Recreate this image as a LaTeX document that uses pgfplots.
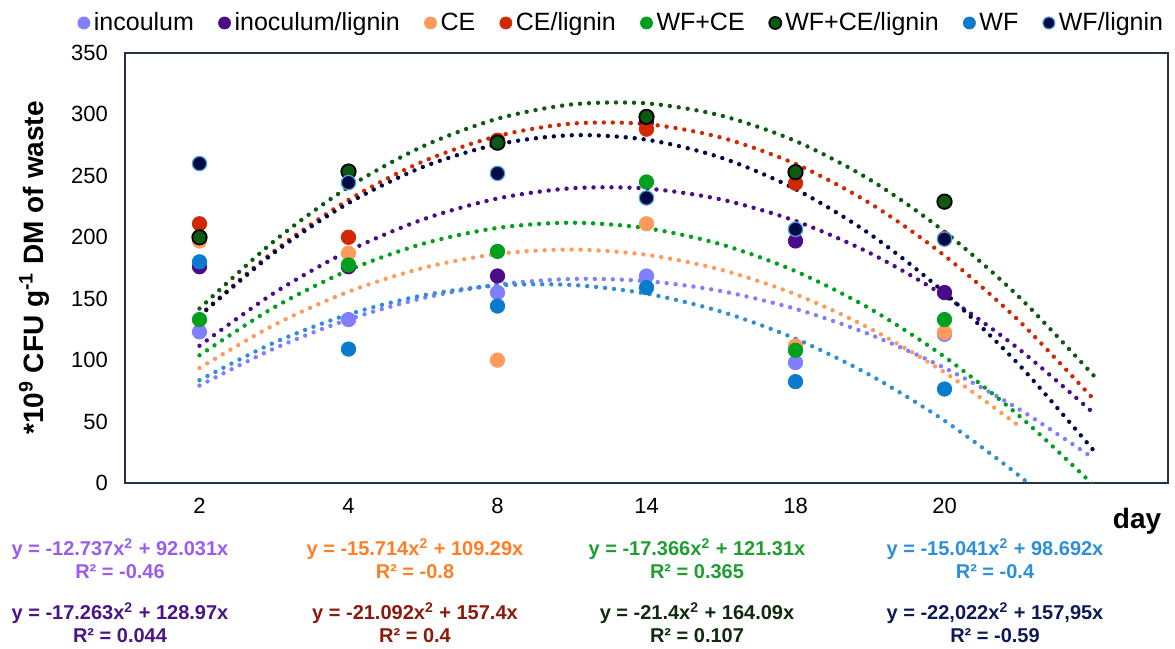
\documentclass[border=0pt]{standalone}
\usepackage{fontspec}
\setmainfont{Liberation Sans}
\usepackage{pgfplots}
\pgfplotsset{compat=1.18}
\definecolor{cInc}{HTML}{7F7FFF}
\definecolor{cIncL}{HTML}{4B0C8A}
\definecolor{cCE}{HTML}{FF9A5C}
\definecolor{cCEL}{HTML}{D02800}
\definecolor{cWFCE}{HTML}{00A01E}
\definecolor{cWFCEL}{HTML}{0B5A10}
\definecolor{cWF}{HTML}{0A7ACD}
\definecolor{cWFL}{HTML}{000B45}
\definecolor{cAxis}{HTML}{23324A}
\definecolor{tInc}{HTML}{9A5CF0}
\definecolor{tIncL}{HTML}{4A1486}
\definecolor{tCE}{HTML}{FF7F27}
\definecolor{tCEL}{HTML}{8B1A0A}
\definecolor{tWFCE}{HTML}{1E9E2E}
\definecolor{tWFCEL}{HTML}{0F2A0F}
\definecolor{tWF}{HTML}{2E8FD8}
\definecolor{tWFL}{HTML}{0D1A55}
\pgfplotsset{
  mk/.style={only marks, mark=*, mark size=3.6pt,
    legend image code/.code={\draw[##1,mark size=3pt] plot coordinates {(0pt,0pt)};}},
  tr/.style={no marks, smooth, forget plot, line width=2.2pt, line cap=round,
    dash pattern=on 0pt off 4.5pt},
}
\begin{document}
\begin{tikzpicture}
\begin{axis}[name=ax, scale only axis, width=521.5pt, height=215pt,
  xmin=0.5, xmax=7.5, ymin=0, ymax=350,
  xtick={1,2,3,4,5,6}, xticklabels={2,4,8,14,18,20},
  ytick={0,50,100,150,200,250,300,350},
  major tick length=0pt,
  axis line style={draw=cAxis, line width=0.9pt},
  tick label style={font=\fontsize{11}{13}\selectfont, /pgf/number format/assume math mode=true},
  xticklabel style={yshift=-4pt},
  yticklabel style={xshift=-5pt},
  ylabel={*10\textsuperscript{9} CFU g\textsuperscript{-1} DM of waste},
  ylabel style={font=\bfseries\fontsize{14}{16}\selectfont, at={(axis description cs:-0.0873,0.5)}, anchor=center},
  legend columns=8,
  legend style={at={(0.5,1)}, anchor=center, xshift=-12pt, yshift=15pt, draw=none, fill=none,
    font=\fontsize{12.5}{14}\selectfont, inner sep=0pt,
    /tikz/every even column/.append style={column sep=10.3pt}},
]
% trendlines
\addplot[tr, color=cInc] coordinates {(1,79.294) (1.5,109.389) (2,133.114) (2.5,150.472) (3,161.46) (3.5,166.081) (4,164.332) (4.5,156.216) (5,141.73) (5.5,120.877) (6,93.654) (6.5,60.064) (7,20.104)};
\addplot[tr, color=cIncL] coordinates {(1,111.707) (1.5,154.613) (2,188.888) (2.5,214.531) (3,231.543) (3.5,239.923) (4,239.672) (4.5,230.789) (5,213.275) (5.5,187.129) (6,152.352) (6.5,108.943) (7,56.903)};
\addplot[tr, color=cCE] coordinates {(1,93.576) (1.5,128.578) (2,155.724) (2.5,175.012) (3,186.444) (3.5,190.018) (4,185.736) (4.5,173.596) (5,153.6) (5.5,125.746) (6,90.036) (6.5,46.468)};
\addplot[tr, color=cCEL] coordinates {(1,136.308) (1.5,188.643) (2,230.432) (2.5,261.675) (3,282.372) (3.5,292.523) (4,292.128) (4.5,281.187) (5,259.7) (5.5,227.667) (6,185.088) (6.5,131.963) (7,68.292)};
\addplot[tr, color=cWFCE] coordinates {(1,103.944) (1.5,142.891) (2,173.156) (2.5,194.737) (3,207.636) (3.5,211.851) (4,207.384) (4.5,194.233) (5,172.4) (5.5,141.883) (6,102.684) (6.5,54.801) (7,-1.764)};
\addplot[tr, color=cWFCEL] coordinates {(1,141.99) (1.5,196.8) (2,240.82) (2.5,274.05) (3,296.49) (3.5,308.14) (4,309.0) (4.5,299.07) (5,278.35) (5.5,246.84) (6,204.54) (6.5,151.45) (7,87.57)};
\addplot[tr, color=cWF!85!white] coordinates {(1,83.651) (1.5,114.196) (2,137.22) (2.5,152.724) (3,160.707) (3.5,161.17) (4,154.112) (4.5,139.534) (5,117.435) (5.5,87.816) (6,50.676) (6.5,6.016) (7,-46.165)};
\addplot[tr, color=cWFL] coordinates {(1,135.928) (1.5,187.375) (2,227.812) (2.5,257.237) (3,275.652) (3.5,283.055) (4,279.448) (4.5,264.829) (5,239.2) (5.5,202.559) (6,154.908) (6.5,96.245) (7,26.572)};
% data points
\addplot[mk, color=cInc] coordinates {(1,123) (2,133) (3,155) (4,168.5) (5,98) (6,121)};
\addlegendentry{incoulum}
\addplot[mk, color=cIncL] coordinates {(1,176) (2,176) (3,168.5) (4,294) (5,197) (6,155)};
\addlegendentry{inoculum/lignin}
\addplot[mk, color=cCE] coordinates {(1,197) (2,187) (3,100) (4,211) (5,111.5) (6,122.5)};
\addlegendentry{CE}
\addplot[mk, color=cCEL] coordinates {(1,211) (2,200) (3,279) (4,288) (5,244) (6,199)};
\addlegendentry{CE/lignin}
\addplot[mk, color=cWFCE] coordinates {(1,133) (2,177.5) (3,188.5) (4,245) (5,108) (6,133)};
\addlegendentry{WF+CE}
\addplot[mk, color=cWFCEL, mark options={draw=black, line width=0.9pt}] coordinates {(1,200) (2,253.5) (3,277) (4,298) (5,253) (6,229)};
\addlegendentry{WF+CE/lignin}
\addplot[mk, color=cWF] coordinates {(1,180) (2,109) (3,144) (4,159) (5,82.5) (6,76.5)};
\addlegendentry{WF}
\addplot[mk, color=cWFL, mark options={draw=cWF!70!white, line width=0.6pt}] coordinates {(1,260) (2,244.5) (3,252) (4,232) (5,206.5) (6,198.5)};
\addlegendentry{WF/lignin}
\end{axis}
\node[font=\bfseries\fontsize{14}{16}\selectfont] at ([xshift=506pt,yshift=-19pt]ax.south west) {day};
\begin{scope}[every node/.style={font=\bfseries\fontsize{10}{11.5}\selectfont, align=center, inner sep=0pt}]
\node[text=tInc] at ([xshift=-2.5pt,yshift=-38pt]ax.south west) {y = -12.737x\textsuperscript{2} + 92.031x\\R² = -0.46};
\node[text=tCE] at ([xshift=145pt,yshift=-38pt]ax.south west) {y = -15.714x\textsuperscript{2} + 109.29x\\R² = -0.8};
\node[text=tWFCE] at ([xshift=286pt,yshift=-38pt]ax.south west) {y = -17.366x\textsuperscript{2} + 121.31x\\R² = 0.365};
\node[text=tWF] at ([xshift=435pt,yshift=-38pt]ax.south west) {y = -15.041x\textsuperscript{2} + 98.692x\\R² = -0.4};
\node[text=tIncL] at ([xshift=-2.5pt,yshift=-70pt]ax.south west) {y = -17.263x\textsuperscript{2} + 128.97x\\R² = 0.044};
\node[text=tCEL] at ([xshift=145pt,yshift=-70pt]ax.south west) {y = -21.092x\textsuperscript{2} + 157.4x\\R² = 0.4};
\node[text=tWFCEL] at ([xshift=286pt,yshift=-70pt]ax.south west) {y = -21.4x\textsuperscript{2} + 164.09x\\R² = 0.107};
\node[text=tWFL] at ([xshift=435pt,yshift=-70pt]ax.south west) {y = -22,022x\textsuperscript{2} + 157,95x\\R² = -0.59};
\end{scope}
\pgfresetboundingbox
\path[use as bounding box] ([xshift=-62.5pt,yshift=-83pt]ax.south west) rectangle ([xshift=3.5pt,yshift=26.5pt]ax.north east);
\end{tikzpicture}
\end{document}
